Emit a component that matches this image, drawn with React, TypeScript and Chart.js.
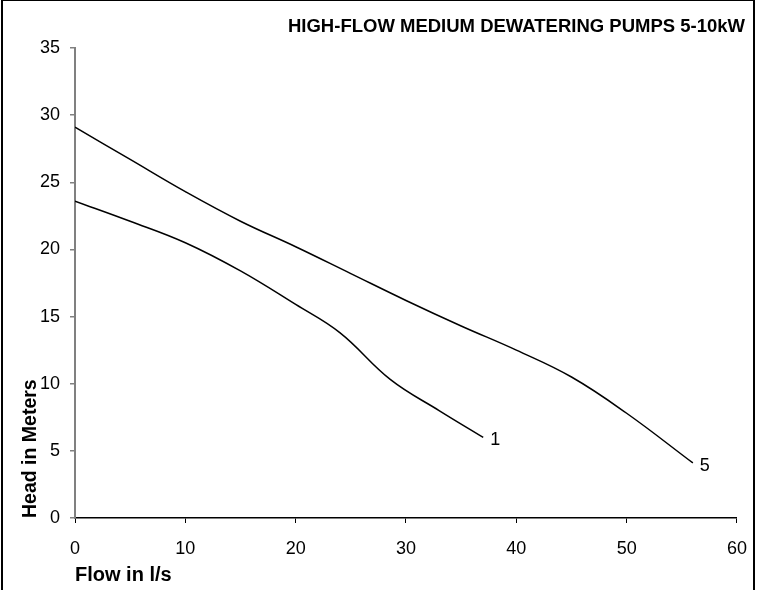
import React, { useEffect, useRef } from "react";
import { Chart, registerables } from "chart.js";

Chart.register(...registerables);

const chartTitle = "HIGH-FLOW MEDIUM DEWATERING PUMPS 5-10kW";
const xAxisTitle = "Flow in l/s";
const yAxisTitle = "Head in Meters";

const flow1 = [0, 5, 10, 15, 20, 24, 28.6, 33, 37];
const head1 = [23.6, 22.1, 20.5, 18.4, 15.9, 13.8, 10.3, 8.0, 6.0];
const label1 = "1";

const flow5 = [0, 5, 10, 15, 20, 25, 30, 35, 40, 45, 50, 56];
const head5 = [29.1, 26.7, 24.3, 22.1, 20.2, 18.2, 16.2, 14.3, 12.5, 10.5, 7.8, 4.1];
const label5 = "5";

const FONT = "'Liberation Sans', Arial, sans-serif";

export default function App() {
  const ref = useRef<HTMLCanvasElement | null>(null);

  useEffect(() => {
    if (!ref.current) return;
    const endLabels = {
      id: "endLabels",
      afterDatasetsDraw(chart: any) {
        const ctx = chart.ctx;
        ctx.save();
        ctx.fillStyle = "#000";
        ctx.font = `18px ${FONT}`;
        ctx.textAlign = "left";
        ctx.textBaseline = "middle";
        chart.data.datasets.forEach((ds: any, i: number) => {
          const meta = chart.getDatasetMeta(i);
          const last = meta.data[meta.data.length - 1];
          if (last) ctx.fillText(ds.label, last.x + 7, last.y + 3);
        });
        ctx.restore();
      },
    };
    const titlePlugin = {
      id: "rightTitle",
      afterDraw(chart: any) {
        const ctx = chart.ctx;
        ctx.save();
        ctx.fillStyle = "#000";
        ctx.font = `bold 18.5px ${FONT}`;
        ctx.textAlign = "right";
        ctx.textBaseline = "middle";
        ctx.fillText(chartTitle, 745, 27);
        ctx.restore();
      },
    };
    const chart = new Chart(ref.current, {
      type: "line",
      data: {
        datasets: [
          {
            label: label1,
            data: flow1.map((x, i) => ({ x, y: head1[i] })),
            borderColor: "#000",
            borderWidth: 1.5,
            pointRadius: 0,
            fill: false,
            tension: 0.4,
          },
          {
            label: label5,
            data: flow5.map((x, i) => ({ x, y: head5[i] })),
            borderColor: "#000",
            borderWidth: 1.5,
            pointRadius: 0,
            fill: false,
            tension: 0.4,
          },
        ],
      },
      options: {
        animation: false,
        responsive: false,
        maintainAspectRatio: false,
        layout: { padding: { left: 10, right: 25, top: 48, bottom: 0 } },
        plugins: {
          legend: { display: false },
          title: { display: false },
          tooltip: { enabled: false },
        },
        scales: {
          x: {
            type: "linear",
            min: 0,
            max: 60,
            ticks: {
              stepSize: 10,
              color: "#000",
              font: { family: FONT, size: 18 },
              padding: 15,
            },
            grid: {
              drawOnChartArea: false,
              drawTicks: true,
              tickLength: 5,
              color: "#000",
              lineWidth: 1,
            },
            border: { color: "#000", width: 1.5 },
            title: {
              display: true,
              text: xAxisTitle,
              align: "start",
              color: "#000",
              font: { family: FONT, size: 20, weight: "bold" },
              padding: { top: 0, bottom: 3 },
            },
            afterFit(scale: any) {
              scale.height = 72;
            },
          },
          y: {
            min: 0,
            max: 35,
            ticks: {
              stepSize: 5,
              color: "#000",
              font: { family: FONT, size: 18 },
              padding: 10,
            },
            grid: {
              drawOnChartArea: false,
              drawTicks: true,
              tickLength: 5,
              color: "#808080",
              lineWidth: 1.5,
            },
            border: { color: "#808080", width: 2 },
            title: {
              display: true,
              text: yAxisTitle,
              align: "start",
              color: "#000",
              font: { family: FONT, size: 19.5, weight: "bold" },
              padding: { top: 9, bottom: 0 },
            },
            afterFit(scale: any) {
              scale.width = 65;
            },
          },
        },
      },
      plugins: [endLabels, titlePlugin],
    });
    return () => chart.destroy();
  }, []);

  return (
    <div
      style={{
        position: "fixed",
        left: 0,
        top: 0,
        width: 762,
        height: 590,
        background: "#fff",
        overflow: "hidden",
      }}
    >
      <div
        style={{
          position: "absolute",
          left: 1,
          top: 0,
          width: 750,
          height: 640,
          borderTop: "1px solid #000",
          borderLeft: "2px solid #000",
          borderRight: "2px solid #000",
        }}
      />
      <canvas
        ref={ref}
        width={762}
        height={590}
        style={{ position: "absolute", left: 0, top: 0, width: 762, height: 590 }}
      />
    </div>
  );
}
